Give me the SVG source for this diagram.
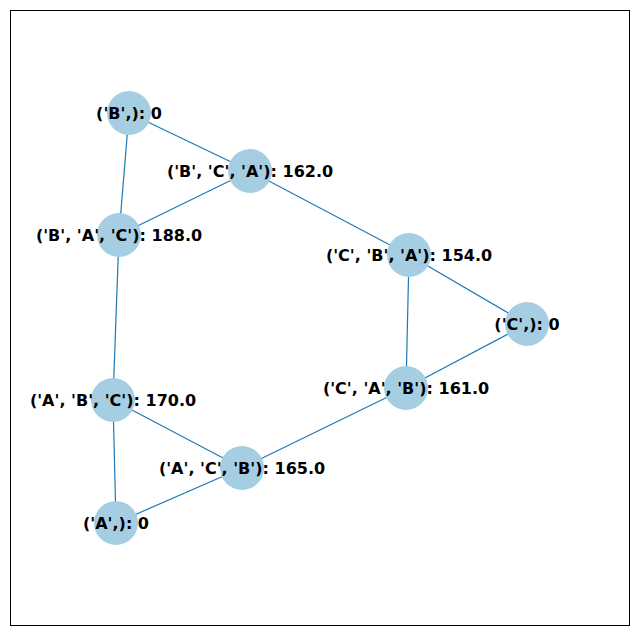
<svg xmlns="http://www.w3.org/2000/svg" width="640" height="636" viewBox="0 0 640 636">
<style>
.n{fill:#a6cee3}
.e line{stroke:#1f78b4;stroke-width:1.2}
text{font-family:"DejaVu Sans",sans-serif;font-weight:bold;font-size:16px;text-anchor:middle;dominant-baseline:central;fill:#000}
</style>
<rect width="640" height="636" fill="#fff"/>
<rect x="10.5" y="10.5" width="619" height="615" fill="none" stroke="#000" stroke-width="1"/>
<g class="e" id="edges">
<line x1="129" y1="113" x2="250" y2="171"/>
<line x1="129" y1="113" x2="119" y2="235"/>
<line x1="250" y1="171" x2="119" y2="235"/>
<line x1="250" y1="171" x2="409" y2="255"/>
<line x1="409" y1="255" x2="527" y2="324"/>
<line x1="409" y1="255" x2="406" y2="388"/>
<line x1="527" y1="324" x2="406" y2="388"/>
<line x1="406" y1="388" x2="242" y2="468"/>
<line x1="119" y1="235" x2="113" y2="400"/>
<line x1="113" y1="400" x2="242" y2="468"/>
<line x1="113" y1="400" x2="116" y2="523"/>
<line x1="116" y1="523" x2="242" y2="468"/>
</g>
<g id="nB"><circle class="n" cx="129" cy="113" r="22"/><text x="129" y="113">('B',): 0</text></g>
<g id="nBCA"><circle class="n" cx="250" cy="171" r="22"/><text x="250" y="171">('B', 'C', 'A'): 162.0</text></g>
<g id="nBAC"><circle class="n" cx="119" cy="235" r="22"/><text x="119" y="235">('B', 'A', 'C'): 188.0</text></g>
<g id="nCBA"><circle class="n" cx="409" cy="255" r="22"/><text x="409" y="255">('C', 'B', 'A'): 154.0</text></g>
<g id="nC"><circle class="n" cx="527" cy="324" r="22"/><text x="527" y="324">('C',): 0</text></g>
<g id="nCAB"><circle class="n" cx="406" cy="388" r="22"/><text x="406" y="388">('C', 'A', 'B'): 161.0</text></g>
<g id="nABC"><circle class="n" cx="113" cy="400" r="22"/><text x="113" y="400">('A', 'B', 'C'): 170.0</text></g>
<g id="nACB"><circle class="n" cx="242" cy="468" r="22"/><text x="242" y="468">('A', 'C', 'B'): 165.0</text></g>
<g id="nA"><circle class="n" cx="116" cy="523" r="22"/><text x="116" y="523">('A',): 0</text></g>
</svg>
